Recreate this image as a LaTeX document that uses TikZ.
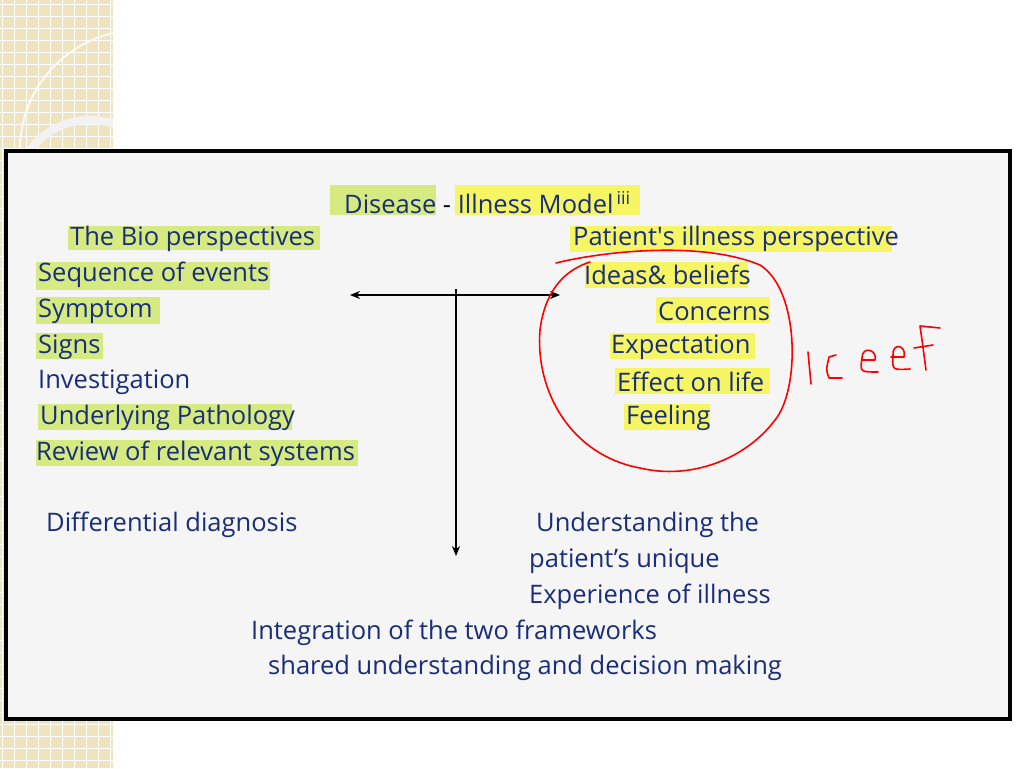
\documentclass[tikz,border=0pt]{standalone}
\usepackage{fontspec}
\usetikzlibrary{arrows.meta}
\setmainfont{Open Sans}
\begin{document}
\begin{tikzpicture}[x=1pt,y=-1pt,
  txt/.style={anchor=west,inner sep=0pt,font=\fontsize{25.5}{28}\selectfont,text=navy},
  pen/.style={red,line width=1.6pt,line cap=round,line join=round},
  arr/.style={-{Stealth[length=10pt,width=8pt]},line width=1.2pt}]
\definecolor{navy}{RGB}{25,45,120}
\definecolor{hlg}{RGB}{214,234,130}
\definecolor{hly}{RGB}{246,246,100}
\definecolor{beige}{RGB}{240,228,190}
\useasboundingbox (0,0) rectangle (1024,768);
\fill[white] (0,0) rectangle (1024,768);
% decorative strip
\fill[beige] (0,0) rectangle (113,768);
\foreach \i in {0,...,30} {\draw[white,line width=0.8pt] (\i*12+2,0) -- (\i*12+2,768);}
\foreach \i in {0,...,64} {\draw[white,line width=0.8pt] (0,\i*12+4) -- (113,\i*12+4);}
\fill[white] (113,0) rectangle (1024,768);
\begin{scope}
\clip (0,0) rectangle (113,768);
\draw[white!85!beige,line width=2pt] (140,150) circle (120);
\draw[white!90!gray,line width=8pt] (90,195) circle (75);
\end{scope}
% main panel
\fill[black!4] (8,153) rectangle (1010,718);
\draw[line width=4pt] (6,151) rectangle (1010,719);
% highlights
\fill[hlg] (330,185) rectangle (436,215);
\fill[hly] (455,185) rectangle (640,215);
\fill[hlg] (68,226) rectangle (320,250);
\fill[hlg] (36,262) rectangle (270,290);
\fill[hlg] (36,297) rectangle (160,324);
\fill[hlg] (36,333) rectangle (103,359);
\fill[hlg] (38,404) rectangle (292,430);
\fill[hlg] (36,440) rectangle (358,466);
\fill[hly] (570,226) rectangle (892,252);
\fill[hly] (585,262) rectangle (748,288);
\fill[hly] (656,297) rectangle (770,323);
\fill[hly] (610,333) rectangle (755,359);
\fill[hly] (615,368) rectangle (770,394);
\fill[hly] (624,404) rectangle (710,430);
% texts
\node[txt] (t0) at (344,203) {Disease \textcolor{black}{-} Illness Model\textsuperscript{\,iii}};
\node[txt] (l1) at (70,239) {The Bio perspectives};
\node[txt] (l2) at (38,275) {Sequence of events};
\node[txt] (l3) at (38,311) {Symptom};
\node[txt] (l4) at (38,347) {Signs};
\node[txt] (l5) at (38,382) {Investigation};
\node[txt] (l6) at (40,418) {Underlying Pathology};
\node[txt] (l7) at (36,454) {Review of relevant systems};
\node[txt] (l8) at (46,525) {Differential diagnosis};
\node[txt] (r1) at (573,239) {Patient\textquotesingle s illness perspective};
\node[txt] (r2) at (584,275) {Ideas\& beliefs};
\node[txt] (r3) at (658,311) {Concerns};
\node[txt] (r4) at (611,347) {Expectation};
\node[txt] (r5) at (617,382) {Effect on life};
\node[txt] (r6) at (626,418) {Feeling};
\node[txt] (r7) at (536,525) {Understanding the};
\node[txt] (r8) at (529,561) {patient’s unique};
\node[txt] (r9) at (529,597) {Experience of illness};
\node[txt] (b1) at (251,633) {Integration of the two frameworks};
\node[txt] (b2) at (268,668) {shared understanding and decision making};
% arrows
\coordinate (ha) at (350,295);
\coordinate (hb) at (560,295);
\coordinate (vt) at (456,289);
\coordinate (vb) at (456,556);
\draw[arr] (456,295) -- (ha);
\draw[arr] (456,295) -- (hb);
\draw[arr] (vt) -- (vb);
% handwriting circle
\draw[pen] (556,263) .. controls (600,252) and (700,240) .. (760,265)
  .. controls (800,290) and (800,390) .. (775,420)
  .. controls (745,460) and (690,480) .. (640,468)
  .. controls (570,455) and (535,390) .. (540,330)
  .. controls (545,290) and (565,270) .. (590,262);
% ICEEF
\draw[pen] (808,352) -- (811,384);
\draw[pen] (836,355) -- (829,357) .. controls (826,370) .. (829,378) -- (842,378);
\draw[pen] (862,360) -- (875,360) .. controls (878,350) and (862,345) .. (862,358) .. controls (860,372) .. (878,372);
\draw[pen] (891,357) -- (904,357) .. controls (907,345) and (892,342) .. (893,355) .. controls (892,370) .. (910,369);
\draw[pen] (940,328) -- (920,326) -- (922,340) .. controls (924,355) .. (926,370);
\draw[pen] (914,348) -- (933,345);
\end{tikzpicture}
\end{document}
